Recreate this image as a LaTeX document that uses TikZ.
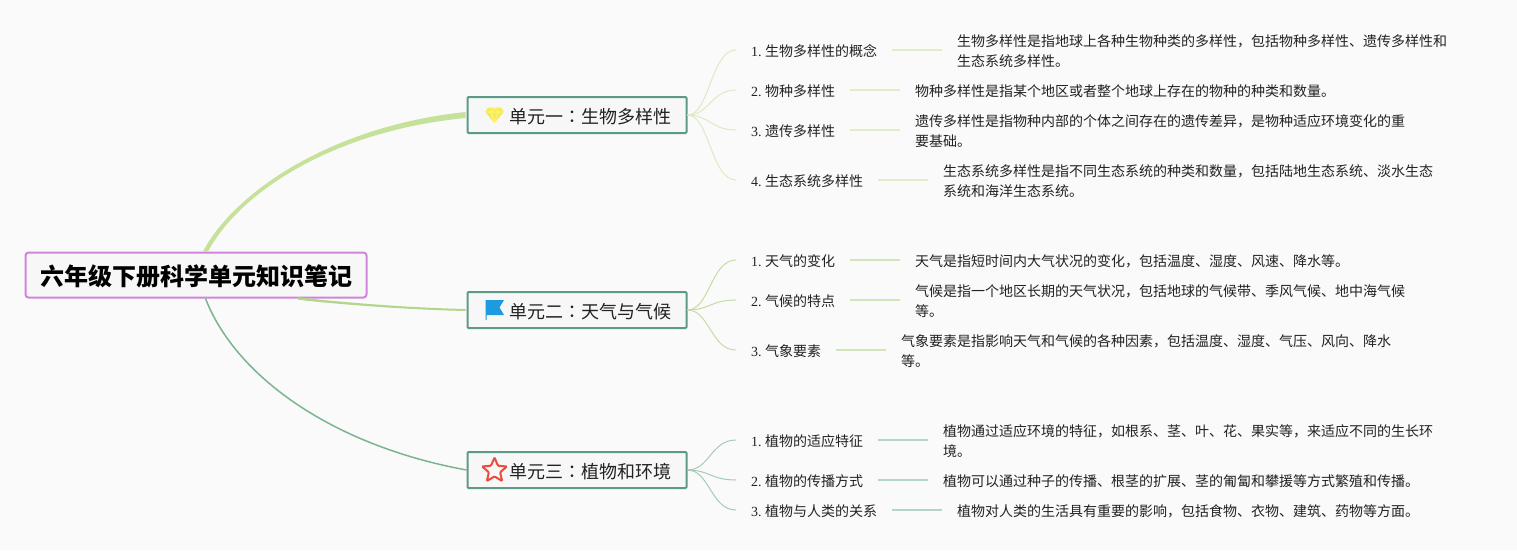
\documentclass[tikz,border=0pt]{standalone}
\usepackage{fontspec}
\setmainfont{Noto Sans CJK SC}
\newfontfamily\latinfont{Liberation Serif}
\newfontfamily\colonfont{Noto Sans CJK TC}
\usetikzlibrary{calc,shapes.geometric}

\definecolor{pagebg}{HTML}{FAFAFA}
\definecolor{inktext}{HTML}{222222}
\definecolor{mainedge}{HTML}{D184DC}
\definecolor{unitedge}{HTML}{5C9A86}
\definecolor{unitfill}{HTML}{F7F7F8}
\definecolor{greenone}{HTML}{C6E29A}
\definecolor{greentwo}{HTML}{B3D68D}
\definecolor{greenthree}{HTML}{7DB490}
\definecolor{subone}{HTML}{DCEBC2}
\definecolor{subtwo}{HTML}{C3DDA4}
\definecolor{subthree}{HTML}{A5CBB6}
\definecolor{noteone}{HTML}{DFEDC8}
\definecolor{notetwo}{HTML}{D2E5BA}
\definecolor{notethree}{HTML}{B4D4C6}
\definecolor{diamondfill}{HTML}{F7EC4F}
\definecolor{flagfill}{HTML}{1E9AE0}
\definecolor{staredge}{HTML}{EA4D3D}

\newcommand{\itemno}[1]{{\latinfont #1.}\hspace{3.5pt}}
\newcommand{\unitcolon}{{\colonfont ：}}
\newcommand{\notestrut}{\rule{0pt}{14.8pt}}

\tikzset{
  mainnode/.style={draw=mainedge, line width=2pt, fill=unitfill, rounded corners=3pt,
    minimum width=341pt, minimum height=45pt, inner sep=0pt, text=black,
    execute at begin node=\rule{0pt}{24pt},
    font=\fontsize{24pt}{28pt}\selectfont\bfseries},
  unitnode/.style={draw=unitedge, line width=2pt, fill=unitfill, rounded corners=1pt,
    minimum width=219pt, minimum height=36pt, inner sep=0pt, text=inktext, text depth=0pt,
    execute at begin node=\rule{0pt}{17pt},
    font=\fontsize{18pt}{22pt}\selectfont},
  itemnode/.style={anchor=west, inner xsep=15pt, inner ysep=0pt, text=inktext,
    execute at begin node=\rule{0pt}{14.5pt},
    font=\fontsize{14pt}{20pt}\selectfont},
  notenode/.style={anchor=west, inner xsep=15pt, inner ysep=0pt, text=inktext, align=left,
    font=\fontsize{14pt}{20pt}\selectfont},
}

\begin{document}
\begin{tikzpicture}[x=1pt, y=-1pt]
  \useasboundingbox (0,0) rectangle (1517,550);
  \fill [pagebg] (0,0) rectangle (1517,550);

  \node [mainnode] (main) at (196,275) {六年级下册科学单元知识笔记};

  % units
  \node [unitnode] (unita) at (577,115) {\hspace*{41.5pt}单元一\unitcolon 生物多样性\hspace*{15.5pt}};
  \node [unitnode] (unitb) at (577,310) {\hspace*{41.5pt}单元二\unitcolon 天气与气候\hspace*{15.5pt}};
  \node [unitnode] (unitc) at (577,470) {\hspace*{41.5pt}单元三\unitcolon 植物和环境\hspace*{15.5pt}};

  % items of unit one
  \node [itemnode] (aone) at (736,50) {\itemno{1}生物多样性的概念};
  \node [itemnode] (atwo) at (736,90) {\itemno{2}物种多样性};
  \node [itemnode] (athree) at (736,130) {\itemno{3}遗传多样性};
  \node [itemnode] (afour) at (736,180) {\itemno{4}生态系统多样性};

  \node [notenode] (noteaone) at (942,50) {\notestrut 生物多样性是指地球上各种生物种类的多样性，包括物种多样性、遗传多样性和\\生态系统多样性。};
  \node [notenode] (noteatwo) at (900,90) {\notestrut 物种多样性是指某个地区或者整个地球上存在的物种的种类和数量。};
  \node [notenode] (noteathree) at (900,130) {\notestrut 遗传多样性是指物种内部的个体之间存在的遗传差异，是物种适应环境变化的重\\要基础。};
  \node [notenode] (noteafour) at (928,180) {\notestrut 生态系统多样性是指不同生态系统的种类和数量，包括陆地生态系统、淡水生态\\系统和海洋生态系统。};

  % items of unit two
  \node [itemnode] (bone) at (736,260) {\itemno{1}天气的变化};
  \node [itemnode] (btwo) at (736,300) {\itemno{2}气候的特点};
  \node [itemnode] (bthree) at (736,350) {\itemno{3}气象要素};

  \node [notenode] (notebone) at (900,260) {\notestrut 天气是指短时间内大气状况的变化，包括温度、湿度、风速、降水等。};
  \node [notenode] (notebtwo) at (900,300) {\notestrut 气候是指一个地区长期的天气状况，包括地球的气候带、季风气候、地中海气候\\等。};
  \node [notenode] (notebthree) at (886,350) {\notestrut 气象要素是指影响天气和气候的各种因素，包括温度、湿度、气压、风向、降水\\等。};

  % items of unit three
  \node [itemnode] (cone) at (736,440) {\itemno{1}植物的适应特征};
  \node [itemnode] (ctwo) at (736,480) {\itemno{2}植物的传播方式};
  \node [itemnode] (cthree) at (736,510) {\itemno{3}植物与人类的关系};

  \node [notenode] (notecone) at (928,440) {\notestrut 植物通过适应环境的特征，如根系、茎、叶、花、果实等，来适应不同的生长环\\境。};
  \node [notenode] (notectwo) at (928,480) {\notestrut 植物可以通过种子的传播、根茎的扩展、茎的匍匐和攀援等方式繁殖和传播。};
  \node [notenode] (notecthree) at (942,510) {\notestrut 植物对人类的生活具有重要的影响，包括食物、衣物、建筑、药物等方面。};

  % main branches
  \fill [greenone] ($(main.68)+(-2.5,0)$) .. controls (235.5,190) and (335,125.5) .. ($(unita.west)+(-1,-3)$)
    -- ($(unita.west)+(-1,3)$) .. controls (335,130.5) and (240.5,191) .. ($(main.68)+(2.5,0)$) -- cycle;
  \fill [greentwo] ($(main.-13)+(0,-1.2)$) .. controls (330,301) and (400,307.5) .. ($(unitb.west)+(-1,-1)$)
    -- ($(unitb.west)+(-1,1)$) .. controls (400,309.5) and (330,303.5) .. ($(main.-13)+(0,1.2)$) -- cycle;
  \draw [greenthree, line width=1.5pt] (main.-68) .. controls (235,375) and (330,445) .. (unitc.west);

  % branches to items
  \foreach \n in {aone,atwo,athree,afour}
    \draw [subone, line width=1pt] (unita.east) .. controls +(22,0) and +(-25,0) .. (\n.west);
  \foreach \n in {bone,btwo,bthree}
    \draw [subtwo, line width=1pt] (unitb.east) .. controls +(22,0) and +(-25,0) .. (\n.west);
  \foreach \n in {cone,ctwo,cthree}
    \draw [subthree, line width=1pt] (unitc.east) .. controls +(22,0) and +(-25,0) .. (\n.west);

  % items to notes
  \foreach \n/\m in {aone/noteaone,atwo/noteatwo,athree/noteathree,afour/noteafour}
    \draw [noteone, line width=1.5pt] (\n.east) -- (\m.west);
  \foreach \n/\m in {bone/notebone,btwo/notebtwo,bthree/notebthree}
    \draw [notetwo, line width=1.5pt] (\n.east) -- (\m.west);
  \foreach \n/\m in {cone/notecone,ctwo/notectwo,cthree/notecthree}
    \draw [notethree, line width=1.5pt] (\n.east) -- (\m.west);

  % diamond
  \fill [diamondfill] (488,107.5) -- (501,107.5) -- (504,112) -- (494.5,123) -- (485,112) -- cycle;
  \draw [white!45!diamondfill, line width=0.6pt] (485,112) -- (504,112) (491,112) -- (494.5,123) -- (498,112) (491,112) -- (494.5,107.5) -- (498,112);

  % flag
  \fill [flagfill] (485.5,300) -- (504,300) -- (499.5,307.5) -- (504,315) -- (486.5,315) -- (486.5,320) -- (485.5,320) -- cycle;

  % star
  \node [star, star points=5, star point ratio=2.2, draw=staredge, line width=2pt, rounded corners=1pt, minimum size=26pt, inner sep=0pt] (starc) at (494.5,470.5) {};
\end{tikzpicture}
\end{document}
